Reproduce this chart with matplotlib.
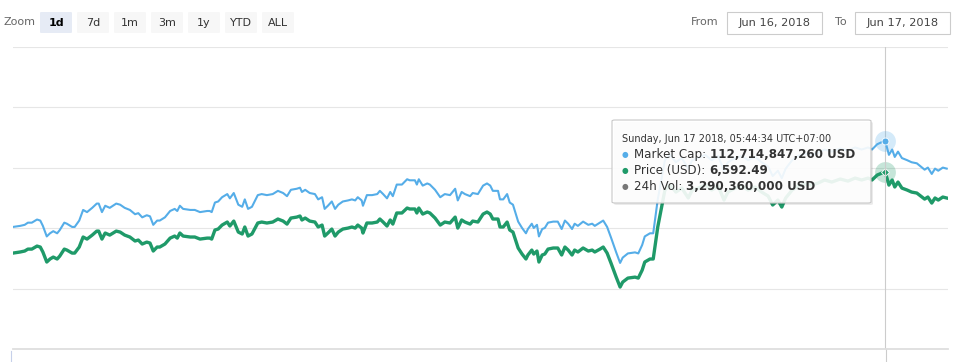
import matplotlib
matplotlib.use("Agg")
import matplotlib.pyplot as plt
from matplotlib.patches import FancyBboxPatch, Rectangle
from matplotlib.lines import Line2D
import pandas as pd

# data: 1 day of BTC, minutes after start
start = "2018-06-16 07:21:34"
minutes = [0, 11, 18, 23, 29, 37, 42, 46, 52, 57, 62, 68, 72, 79, 83, 91, 95, 102, 108, 114,
           122, 129, 132, 137, 142, 149, 159, 165, 172, 180, 188, 193, 199, 206, 211, 216, 222, 226, 234, 242,
           249, 253, 257, 262, 273, 280, 288, 299, 303, 306, 311, 316, 322, 330, 334, 340, 347, 353, 357, 362,
           368, 377, 383, 391, 400, 408, 416, 422, 428, 437, 442, 445, 450, 457, 465, 470, 476, 480, 485, 491,
           496, 501, 508, 516, 522, 527, 531, 537, 539, 545, 553, 561, 565, 570, 576, 581, 585, 591, 599, 607,
           611, 619, 622, 625, 631, 638, 642, 650, 658, 665, 673, 681, 685, 691, 696, 704, 708, 716, 724, 730,
           735, 739, 747, 750, 755, 761, 765, 770, 778, 784, 790, 793, 799, 802, 807, 810, 815, 819, 824, 832,
           839, 845, 850, 855, 861, 865, 870, 878, 886, 892, 896, 904, 909, 915, 921, 929, 935, 939, 947, 958,
           963, 969, 973, 981, 986, 993, 999, 1004, 1012, 1021, 1030, 1040, 1046, 1055, 1066, 1076, 1086, 1095, 1101, 1112,
           1123, 1132, 1143, 1153, 1163, 1170, 1178, 1184, 1190, 1200, 1209, 1220, 1230, 1240, 1250, 1261, 1274, 1286, 1297, 1307,
           1317, 1323, 1331, 1338, 1343, 1346, 1349, 1354, 1358, 1363, 1369, 1377, 1384, 1392, 1400, 1404, 1409, 1415, 1420, 1425,
           1432, 1438]
price_usd = [6525.4, 6526.3, 6527.1, 6528.7, 6528.7, 6531.2, 6530.4, 6526.3, 6518.0, 6520.5, 6522.1, 6520.5, 6522.9, 6528.7, 6527.9, 6525.4, 6525.4, 6530.4, 6538.7, 6537.0,
             6540.3, 6543.6, 6543.6, 6537.0, 6542.0, 6540.3, 6543.6, 6542.8, 6540.3, 6538.7, 6535.4, 6536.2, 6532.9, 6534.5, 6533.7, 6527.1, 6530.4, 6530.4, 6532.9, 6537.8,
             6539.5, 6537.8, 6542.0, 6539.5, 6538.7, 6538.7, 6537.0, 6537.8, 6537.8, 6537.0, 6544.5, 6545.3, 6548.6, 6551.1, 6547.8, 6551.9, 6542.8, 6541.2, 6547.0, 6539.5,
             6541.2, 6550.3, 6551.1, 6550.3, 6551.1, 6553.6, 6551.9, 6549.4, 6554.4, 6555.2, 6556.1, 6552.8, 6554.4, 6551.9, 6551.1, 6547.0, 6548.6, 6539.5, 6542.0, 6545.3,
             6539.5, 6542.8, 6545.3, 6546.1, 6547.0, 6546.1, 6548.6, 6546.1, 6542.0, 6550.3, 6550.3, 6551.1, 6553.6, 6551.1, 6547.8, 6552.8, 6549.4, 6558.6, 6558.6, 6562.7,
             6561.9, 6561.9, 6558.6, 6562.7, 6557.7, 6559.4, 6558.6, 6554.4, 6548.6, 6551.1, 6550.3, 6555.2, 6546.1, 6552.8, 6551.1, 6549.4, 6551.9, 6551.1, 6557.7, 6559.4,
             6557.7, 6553.6, 6553.6, 6547.0, 6547.0, 6551.1, 6544.5, 6542.8, 6529.6, 6524.6, 6520.5, 6523.8, 6527.9, 6524.6, 6527.1, 6518.0, 6523.8, 6524.6, 6528.7, 6529.6,
             6529.6, 6523.8, 6530.4, 6527.9, 6523.8, 6527.9, 6526.3, 6529.6, 6527.1, 6527.9, 6526.3, 6528.7, 6530.4, 6525.4, 6517.1, 6505.5, 6497.3, 6501.4, 6504.7, 6505.5,
             6504.7, 6511.3, 6518.0, 6520.5, 6520.5, 6547.0, 6563.5, 6577.6, 6581.7, 6575.9, 6579.2, 6571.0, 6577.6, 6579.2, 6581.7, 6577.6, 6580.9, 6569.3, 6575.9, 6579.2,
             6580.9, 6577.6, 6580.1, 6575.9, 6572.6, 6565.2, 6569.3, 6563.5, 6571.0, 6577.6, 6580.9, 6582.6, 6581.7, 6583.4, 6585.9, 6584.2, 6586.7, 6585.0, 6587.5, 6585.9,
             6587.5, 6585.9, 6590.0, 6591.6, 6592.49, 6587.5, 6581.7, 6585.9, 6580.1, 6584.2, 6579.2, 6577.6, 6575.9, 6575.1, 6571.8, 6570.1, 6571.8, 6566.8, 6571.0, 6569.3,
             6571.8, 6571.0]
market_cap_bn = [111.567, 111.581, 111.595, 111.624, 111.624, 111.666, 111.652, 111.581, 111.440, 111.482, 111.510, 111.482, 111.525, 111.624, 111.610, 111.567, 111.567, 111.652, 111.794, 111.765,
                 111.822, 111.879, 111.879, 111.765, 111.850, 111.822, 111.879, 111.864, 111.822, 111.794, 111.737, 111.751, 111.695, 111.723, 111.709, 111.595, 111.652, 111.652, 111.695, 111.780,
                 111.808, 111.780, 111.850, 111.808, 111.794, 111.794, 111.765, 111.780, 111.780, 111.765, 111.893, 111.907, 111.964, 112.006, 111.949, 112.020, 111.864, 111.836, 111.935, 111.808,
                 111.836, 111.992, 112.006, 111.992, 112.006, 112.049, 112.020, 111.978, 112.063, 112.077, 112.091, 112.034, 112.063, 112.020, 112.006, 111.935, 111.964, 111.808, 111.850, 111.907,
                 111.808, 111.864, 111.907, 111.921, 111.935, 111.921, 111.964, 111.921, 111.850, 111.992, 111.992, 112.006, 112.049, 112.006, 111.949, 112.034, 111.978, 112.133, 112.133, 112.204,
                 112.190, 112.190, 112.133, 112.204, 112.119, 112.148, 112.133, 112.063, 111.964, 112.006, 111.992, 112.077, 111.921, 112.034, 112.006, 111.978, 112.020, 112.006, 112.119, 112.148,
                 112.119, 112.049, 112.049, 111.935, 111.935, 112.006, 111.893, 111.864, 111.638, 111.553, 111.482, 111.539, 111.610, 111.553, 111.595, 111.440, 111.539, 111.553, 111.624, 111.638,
                 111.638, 111.539, 111.652, 111.610, 111.539, 111.610, 111.581, 111.638, 111.595, 111.610, 111.581, 111.624, 111.652, 111.567, 111.425, 111.227, 111.086, 111.157, 111.213, 111.227,
                 111.213, 111.326, 111.440, 111.482, 111.482, 111.935, 112.218, 112.459, 112.530, 112.431, 112.487, 112.346, 112.459, 112.487, 112.530, 112.459, 112.516, 112.318, 112.431, 112.487,
                 112.516, 112.459, 112.502, 112.431, 112.374, 112.247, 112.318, 112.218, 112.346, 112.459, 112.516, 112.544, 112.530, 112.558, 112.601, 112.573, 112.615, 112.587, 112.629, 112.601,
                 112.629, 112.601, 112.672, 112.700, 112.714847, 112.629, 112.530, 112.601, 112.502, 112.573, 112.487, 112.459, 112.431, 112.417, 112.360, 112.332, 112.360, 112.275, 112.346, 112.318,
                 112.360, 112.346]
hover_idx = 204

zoom_buttons = ["1d", "7d", "1m", "3m", "1y", "YTD", "ALL"]
date_from = "Jun 16, 2018"
date_to = "Jun 17, 2018"
tooltip_title = "Sunday, Jun 17 2018, 05:44:34 UTC+07:00"
tooltip_rows = [("Market Cap: ", "112,714,847,260 USD"),
                ("Price (USD): ", "6,592.49"),
                ("24h Vol: ", "3,290,360,000 USD")]

BLUE = "#55ade8"
GREEN = "#1f9a69"
GREY_DOT = "#777777"

W, H = 961, 362
fig = plt.figure(figsize=(W / 100, H / 100), dpi=100)
plt.rcParams["font.family"] = ["DejaVu Sans"]


def fx(x):
    return x / W


def fy(y):
    return 1 - y / H


times = pd.Timestamp(start) + pd.to_timedelta(minutes, unit="m")

ax = fig.add_axes([fx(13), fy(349), 935 / W, 302 / H])
ax2 = ax.twinx()
for a in (ax, ax2):
    for s in a.spines.values():
        s.set_visible(False)
    a.tick_params(left=False, right=False, bottom=False,
                  labelleft=False, labelright=False, labelbottom=False)
    a.patch.set_visible(False)

ax.set_xlim(times[0], pd.Timestamp(start) + pd.Timedelta(minutes=1440))
ax.set_ylim(6446, 6696)
ax.set_yticks([6446 + 50 * k for k in range(6)])
ax.grid(axis="y", color="#e6e6e6", lw=0.8)
ax.grid(axis="x", visible=False)
ax2.set_ylim(109.936, 113.971)

ax.plot(times, price_usd, color=GREEN, lw=2.4, solid_joinstyle="round")
ax2.plot(times, market_cap_bn, color=BLUE, lw=1.5, solid_joinstyle="round")

# hover markers
t_h = times[hover_idx]
ax2.plot([t_h], [market_cap_bn[hover_idx]], "o", ms=15, color=BLUE, alpha=0.25, mec="none")
ax2.plot([t_h], [market_cap_bn[hover_idx]], "o", ms=5, color=BLUE, mec="white", mew=0.6)
ax.plot([t_h], [price_usd[hover_idx]], "o", ms=15, color=GREEN, alpha=0.25, mec="none")
ax.plot([t_h], [price_usd[hover_idx]], "D", ms=4.5, color=GREEN, mec="white", mew=0.6)

# crosshair
ax.axvline(t_h, color="#cccccc", lw=0.8, ymin=0, ymax=1)
fig.add_artist(Line2D([fx(885.5), fx(885.5)], [fy(349), fy(362)], color="#cccccc", lw=0.8))

# bottom line / navigator hint
fig.add_artist(Line2D([fx(13), fx(948)], [fy(349), fy(349)], color="#dedede", lw=1.3))
fig.add_artist(Line2D([fx(10.5), fx(10.5)], [fy(351), fy(362)], color="#c6d0ea", lw=0.8))

# range selector
fig.text(fx(3), fy(22), "Zoom", fontsize=8, color="#666666", va="center", ha="left")
bx = 40
for i, lab in enumerate(zoom_buttons):
    sel = i == 0
    fig.add_artist(FancyBboxPatch((fx(bx), fy(33)), 32 / W, 21 / H,
                                  boxstyle="round,pad=0,rounding_size=0.002",
                                  transform=fig.transFigure,
                                  fc="#e6ebf5" if sel else "#f7f7f7", ec="none"))
    fig.text(fx(bx + 16), fy(22.5), lab, fontsize=8, ha="center", va="center",
             color="#000000" if sel else "#333333",
             fontweight="bold" if sel else "normal")
    bx += 37

fig.text(fx(718), fy(22), "From", fontsize=8, color="#666666", ha="right", va="center")
fig.text(fx(847), fy(22), "To", fontsize=8, color="#666666", ha="right", va="center")
for x0, lab in ((727, date_from), (855, date_to)):
    fig.add_artist(Rectangle((fx(x0), fy(33.5)), 95 / W, 21.5 / H, transform=fig.transFigure,
                             fc="white", ec="#cccccc", lw=0.8))
    fig.text(fx(x0 + 47.5), fy(22.5), lab, fontsize=8.2, color="#444444",
             ha="center", va="center")

# tooltip
fig.add_artist(FancyBboxPatch((fx(614), fy(205)), 259 / W, 83 / H,
                              boxstyle="round,pad=0,rounding_size=0.003",
                              transform=fig.transFigure, fc="black", alpha=0.08,
                              ec="none", zorder=2))
fig.add_artist(FancyBboxPatch((fx(612), fy(203)), 259 / W, 83 / H,
                              boxstyle="round,pad=0,rounding_size=0.003",
                              transform=fig.transFigure, fc=(1, 1, 1, 0.9),
                              ec="#c8c8c8", lw=0.8, zorder=3))
fig.text(fx(622), fy(139), tooltip_title, fontsize=7, color="#333333",
         ha="left", va="center", zorder=4)

r = fig.canvas.get_renderer()
row_y = [154.5, 170.5, 186.5]
dot_cols = [BLUE, GREEN, GREY_DOT]
for (lab, val), yy, c in zip(tooltip_rows, row_y, dot_cols):
    fig.text(fx(625), fy(yy), "\u25cf", fontsize=5.5, color=c, ha="center",
             va="center", zorder=4)
    t = fig.text(fx(634), fy(yy), lab, fontsize=8.6, color="#333333",
                 ha="left", va="center", zorder=4)
    bb = t.get_window_extent(renderer=r)
    fig.text(bb.x1 / W, fy(yy), val, fontsize=8.6, color="#333333",
             fontweight="bold", ha="left", va="center", zorder=4)

fig.savefig("out.png", dpi=100)
